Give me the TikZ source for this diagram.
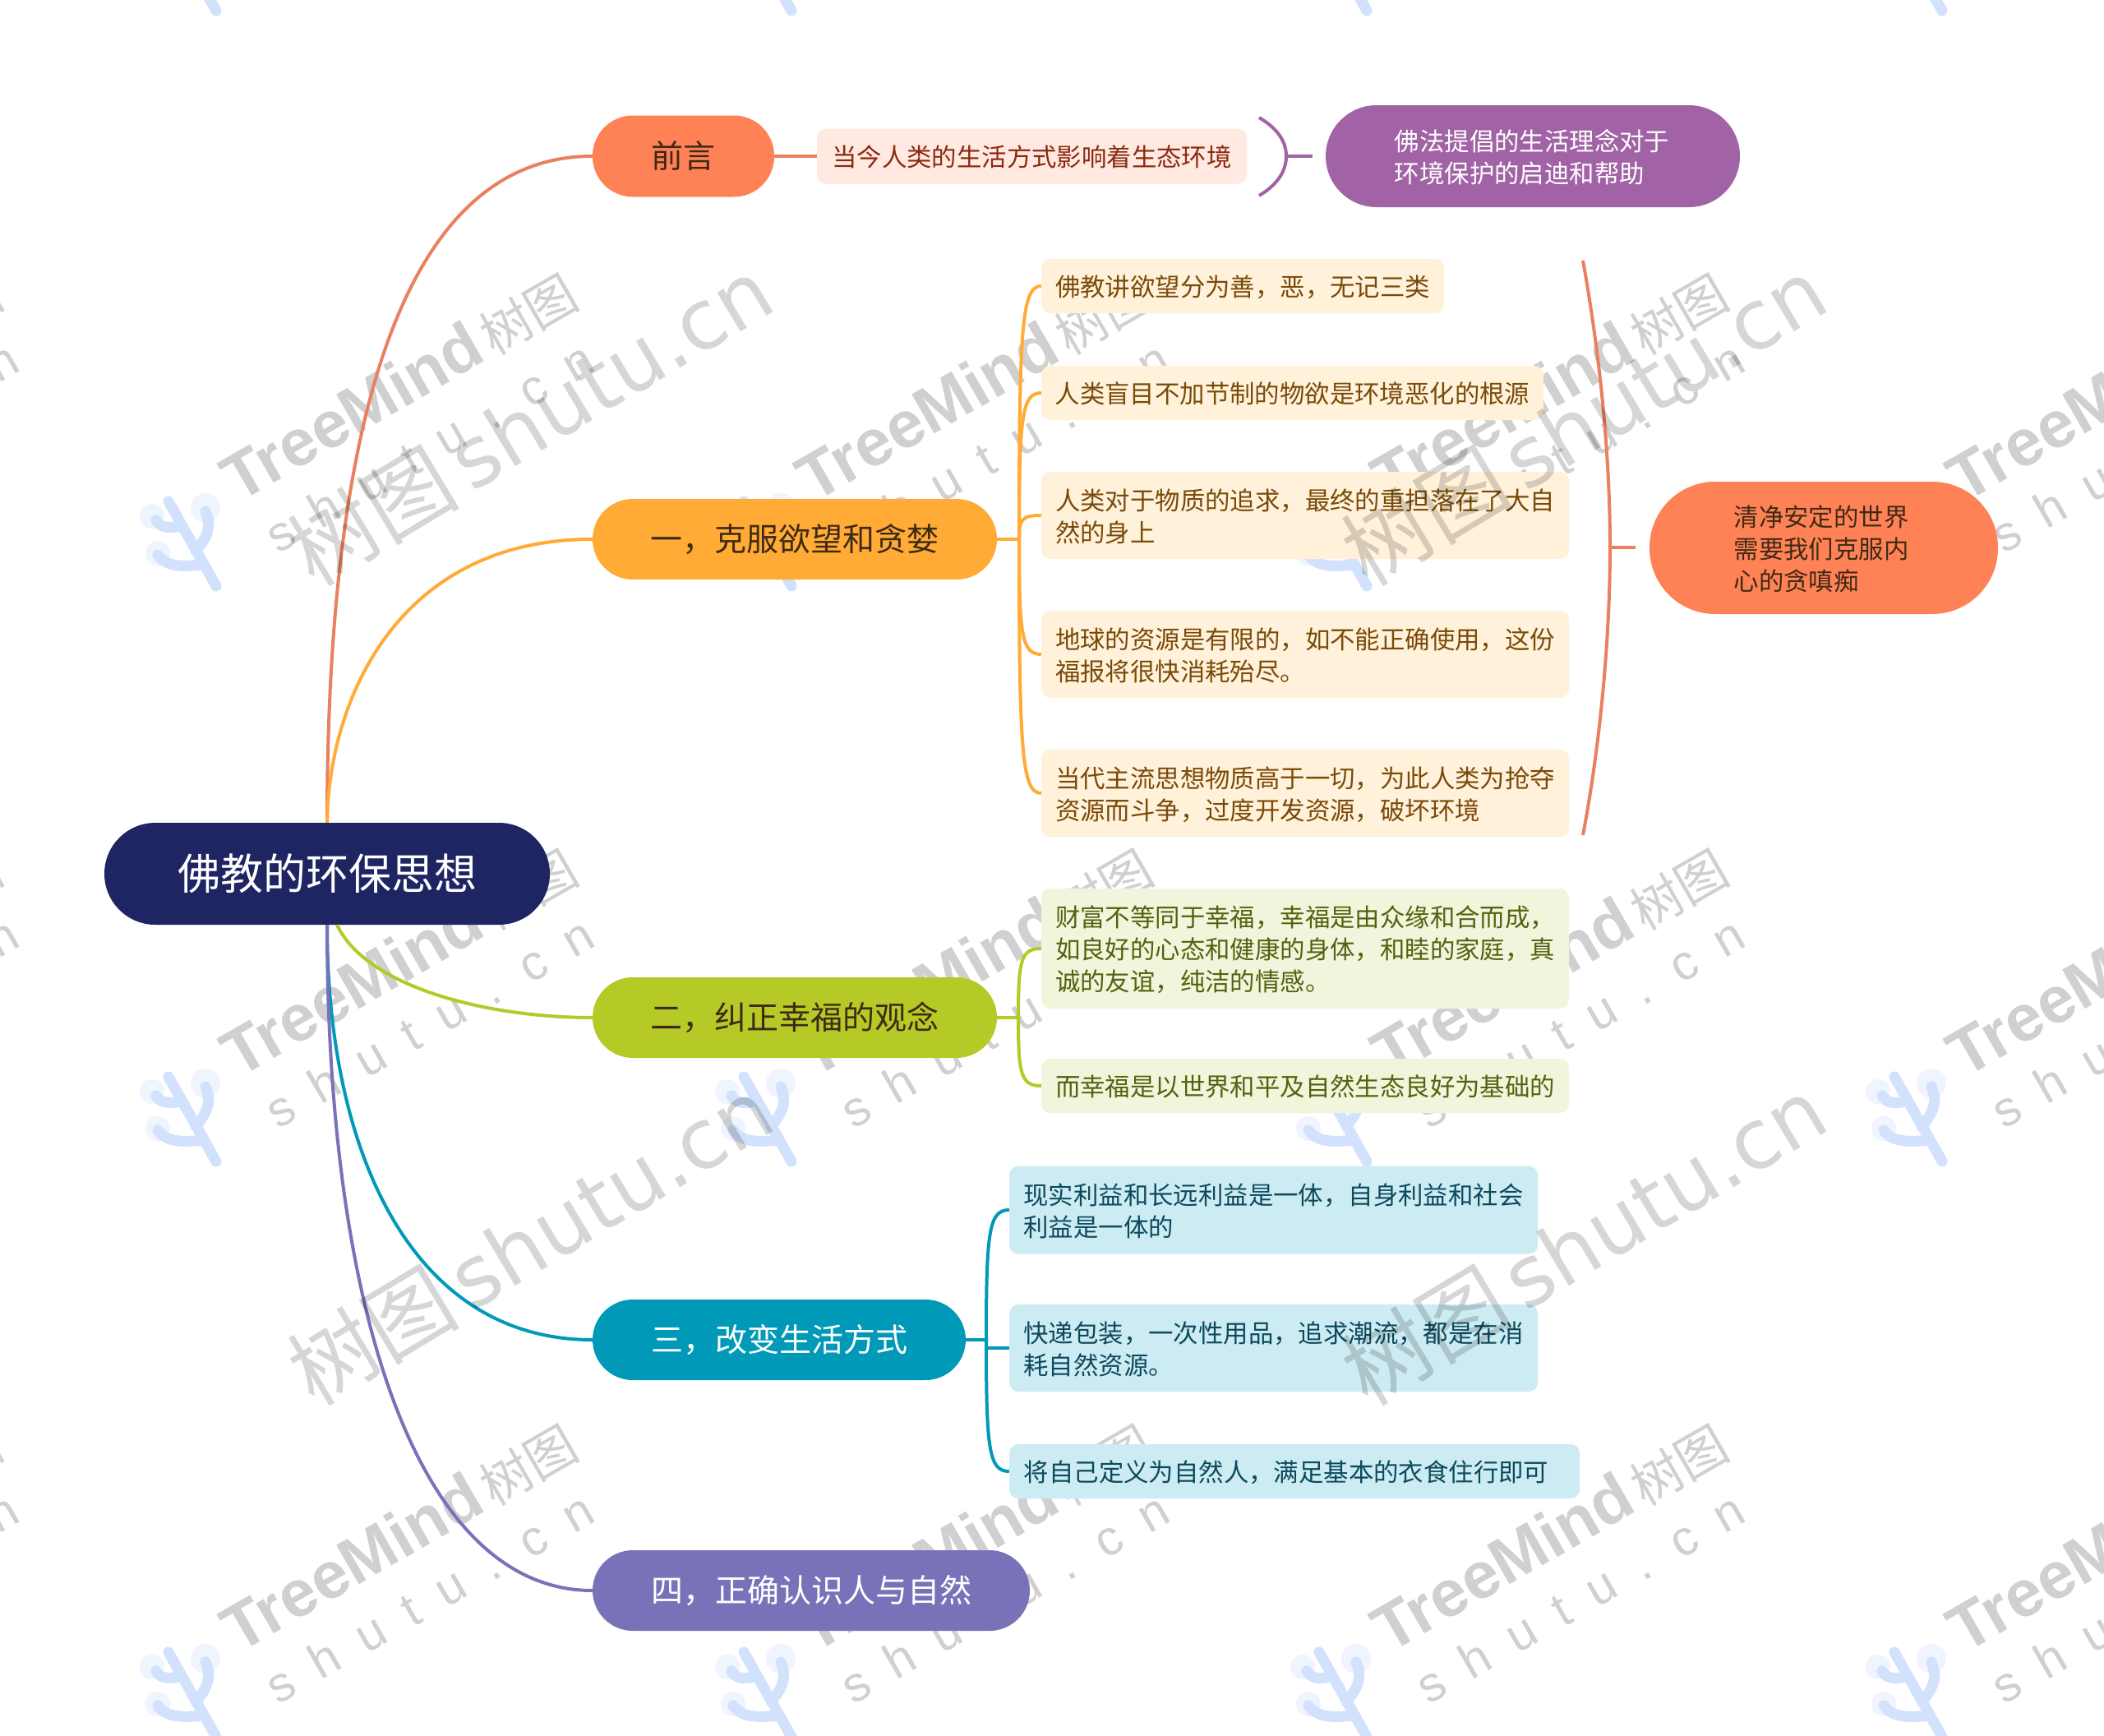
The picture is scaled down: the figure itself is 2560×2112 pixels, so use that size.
\documentclass[tikz,border=0pt]{standalone}
\usepackage{fontspec}
\setmainfont{Noto Sans CJK SC}
\newfontfamily\latinwm{Liberation Sans}
\newfontfamily\latinbig{DejaVu Sans}
\newcommand{\ntx}[1]{\raisebox{-0.17em}[\height][\depth]{\begin{tabular}{@{}l@{}}#1\end{tabular}}}
\newcommand{\ntxb}[1]{\raisebox{-0.13em}[\height][\depth]{\begin{tabular}{@{}l@{}}#1\end{tabular}}}
\definecolor{cnavy}{HTML}{1F2563}
\definecolor{ccoral}{HTML}{FF8257}
\definecolor{ccoralL}{HTML}{E98060}
\definecolor{cpurple}{HTML}{A263A6}
\definecolor{corange}{HTML}{FFAB36}
\definecolor{cgreen}{HTML}{B5C927}
\definecolor{cteal}{HTML}{0099B8}
\definecolor{cviolet}{HTML}{7872B9}
\definecolor{lpink}{HTML}{FFE9E1}
\definecolor{lorange}{HTML}{FFF1DA}
\definecolor{lgreen}{HTML}{F1F5DC}
\definecolor{lblue}{HTML}{CDEBF2}
\definecolor{tpink}{HTML}{8A2A10}
\definecolor{torange}{HTML}{7A4A08}
\definecolor{tgreen}{HTML}{55610F}
\definecolor{tblue}{HTML}{0B4A5C}
\definecolor{tdark}{HTML}{3F2A14}
\definecolor{wmgray}{HTML}{D0D0D0}
\definecolor{wmblue}{HTML}{D2E1FC}
\definecolor{wmhalo}{HTML}{EFF4FE}
\tikzset{
  x=1pt,y=-1pt,
  pillbox/.style={inner sep=0pt,rounded corners=49pt,font=\fontsize{39}{48}\selectfont},
  subbox/.style={inner sep=0pt,rounded corners=48pt,text=white,font=\fontsize{30.4}{39}\selectfont},
  leafbox/.style={inner sep=0pt,rounded corners=11pt,font=\fontsize{30.4}{39}\selectfont},
  conn/.style={line width=4pt},
  wmsmall/.style={text=wmgray,rotate=30,inner sep=0pt},
  wmbig/.style={text=black,text opacity=0.16,rotate=31,inner sep=0pt},
  wmlogo/.style={wmblue,line width=13pt,line cap=round},
}
\begin{document}
\begin{tikzpicture}
\useasboundingbox (0,0) rectangle (2560,2112);
\clip (0,0) rectangle (2560,2112);
\fill[white] (0,0) rectangle (2560,2112);
% small watermark tiles
\foreach \i in {-1,0,1,2,3}{
 \foreach \j in {-1,0,1,2}{
  \pgfmathsetmacro{\ox}{700*\i}
  \pgfmathsetmacro{\oy}{700*\j}
  \begin{scope}[shift={(\ox,\oy)}]
   \fill[wmhalo] (185,628) circle[radius=15];
   \fill[wmhalo] (250,618) circle[radius=18];
   \fill[wmhalo] (192,673) circle[radius=15];
   \draw[wmlogo] (205,610) -- (263,713);
   \draw[wmlogo] (250,622) .. controls (258,640) and (252,655) .. (238,670);
   \draw[wmlogo] (190,633) .. controls (195,642) and (205,643) .. (218,640);
   \draw[wmlogo] (192,675) .. controls (200,686) and (212,691) .. (248,687);
   \node[wmsmall] (tm\i\j) at (486,469) {{\latinwm\bfseries\fontsize{80}{80}\selectfont TreeMind}\hspace{8pt}{\fontsize{62}{62}\selectfont 树图}};
   \node[wmsmall] (su\i\j) at (522,544) {{\latinwm\fontsize{60}{60}\selectfont\spaceskip=31pt s h u t u . c n}};
  \end{scope}
 }
}
% root and branches
\node[pillbox,rounded corners=62pt,fill=cnavy,text=white,minimum width=542pt,minimum height=124pt,font=\fontsize{52}{60}\selectfont] (root) at (398,1063) {\ntxb{佛教的环保思想}};
\node[pillbox,fill=ccoral,text=tdark,minimum width=221pt,minimum height=99pt] (b0) at (831.5,190) {\ntxb{前言}};
\node[pillbox,fill=corange,text=tdark,minimum width=492pt,minimum height=98pt] (b1) at (967,656) {\ntxb{一，克服欲望和贪婪}};
\node[pillbox,fill=cgreen,text=tdark,minimum width=492pt,minimum height=98pt] (b2) at (967,1238) {\ntxb{二，纠正幸福的观念}};
\node[pillbox,fill=cteal,text=white,minimum width=454pt,minimum height=98pt] (b3) at (948,1630) {\ntxb{三，改变生活方式}};
\node[pillbox,fill=cviolet,text=white,minimum width=532pt,minimum height=98pt] (b4) at (987,1935) {\ntxb{四，正确认识人与自然}};
% leaves
\node[leafbox,fill=lpink,text=tpink,minimum width=523pt,minimum height=67pt] (l01) at (1255.5,190) {\ntx{当今人类的生活方式影响着生态环境}};
\node[subbox,rounded corners=62pt,fill=cpurple,minimum width=504pt,minimum height=124pt] (s0) at (1865,190) {\ntx{佛法提倡的生活理念对于\\环境保护的启迪和帮助}\hspace*{2pt}};
\node[subbox,rounded corners=80pt,fill=ccoral,text=tdark,minimum width=424pt,minimum height=161pt] (s1) at (2219,666.5) {\ntx{清净安定的世界\\需要我们克服内\\心的贪嗔痴}\hspace*{6pt}};
\node[leafbox,fill=lorange,text=torange,minimum width=490pt,minimum height=66pt] (l11) at (1512,348) {\ntx{佛教讲欲望分为善，恶，无记三类}};
\node[leafbox,fill=lorange,text=torange,minimum width=611pt,minimum height=66pt] (l12) at (1572.5,478) {\ntx{人类盲目不加节制的物欲是环境恶化的根源}};
\node[leafbox,fill=lorange,text=torange,minimum width=642pt,minimum height=106pt] (l13) at (1588,627) {\ntx{人类对于物质的追求，最终的重担落在了大自\\然的身上}};
\node[leafbox,fill=lorange,text=torange,minimum width=642pt,minimum height=106pt] (l14) at (1588,796) {\ntx{地球的资源是有限的，如不能正确使用，这份\\福报将很快消耗殆尽。}};
\node[leafbox,fill=lorange,text=torange,minimum width=642pt,minimum height=106pt] (l15) at (1588,965) {\ntx{当代主流思想物质高于一切，为此人类为抢夺\\资源而斗争，过度开发资源，破坏环境}};
\node[leafbox,fill=lgreen,text=tgreen,minimum width=642pt,minimum height=146pt] (l21) at (1588,1154) {\ntx{财富不等同于幸福，幸福是由众缘和合而成，\\如良好的心态和健康的身体，和睦的家庭，真\\诚的友谊，纯洁的情感。}};
\node[leafbox,fill=lgreen,text=tgreen,minimum width=642pt,minimum height=66pt] (l22) at (1588,1321) {\ntx{而幸福是以世界和平及自然生态良好为基础的}};
\node[leafbox,fill=lblue,text=tblue,minimum width=643pt,minimum height=107pt] (l31) at (1549.5,1472) {\ntx{现实利益和长远利益是一体，自身利益和社会\\利益是一体的}};
\node[leafbox,fill=lblue,text=tblue,minimum width=643pt,minimum height=106pt] (l32) at (1549.5,1640) {\ntx{快递包装，一次性用品，追求潮流，都是在消\\耗自然资源。}};
\node[leafbox,fill=lblue,text=tblue,minimum width=694pt,minimum height=66pt] (l33) at (1575,1790) {\ntx{将自己定义为自然人，满足基本的衣食住行即可}\hspace*{20pt}};
% root connectors
\draw[conn,ccoralL] (root.north) .. controls (398,500) and (495,190) .. (b0.west);
\draw[conn,corange] (root.north) .. controls (400,850) and (485,656) .. (b1.west);
\coordinate (rootg) at (410,1125);
\draw[conn,cgreen] (rootg) .. controls (445,1200) and (590,1238) .. (b2.west);
\draw[conn,cteal] (root.south) .. controls (398,1400) and (500,1630) .. (b3.west);
\draw[conn,cviolet] (root.south) .. controls (398,1600) and (510,1935) .. (b4.west);
% branch to leaves
\draw[conn,ccoralL] (b0.east) -- (l01.west);
\coordinate (t1) at (1240,656);
\draw[conn,corange] (b1.east) -- (t1);
\foreach \n/\yy in {l11/348,l12/478,l13/627,l14/796,l15/965}{
  \pgfmathsetmacro{\cc}{\yy+0.17*(656-\yy)}
  \draw[conn,corange] (t1) .. controls (1240,\cc) and (1243,\yy) .. (\n.west);
}
\coordinate (t2) at (1239,1238);
\draw[conn,cgreen] (b2.east) -- (t2);
\foreach \n/\yy in {l21/1154,l22/1321}{
  \pgfmathsetmacro{\cc}{\yy+0.17*(1238-\yy)}
  \draw[conn,cgreen] (t2) .. controls (1239,\cc) and (1242,\yy) .. (\n.west);
}
\coordinate (t3) at (1200,1630);
\draw[conn,cteal] (b3.east) -- (t3);
\foreach \n/\yy in {l31/1472,l33/1790}{
  \pgfmathsetmacro{\cc}{\yy+0.17*(1630-\yy)}
  \draw[conn,cteal] (t3) .. controls (1200,\cc) and (1203,\yy) .. (\n.west);
}
\draw[conn,cteal] (t3) -- (1200,1640) -- (l32.west);
% summary brackets
\coordinate (br0a) at (1532,143);
\coordinate (br0m) at (1565,190);
\coordinate (br0b) at (1532,238);
\draw[conn,cpurple] (br0a) .. controls (1552,155) and (1565,170) .. (br0m) .. controls (1565,210) and (1552,226) .. (br0b);
\draw[conn,cpurple] (br0m) -- (1597,190);
\coordinate (br1a) at (1926,317);
\coordinate (br1m) at (1959,666);
\coordinate (br1b) at (1926,1016);
\draw[conn,ccoralL] (br1a) .. controls (1948,440) and (1959,560) .. (br1m) .. controls (1959,770) and (1948,900) .. (br1b);
\draw[conn,ccoralL] (br1m) -- (1990,666);
% large watermark over everything
\foreach \i in {0,1}{
 \foreach \j in {0,1}{
  \pgfmathsetmacro{\ox}{645+1282*\i}
  \pgfmathsetmacro{\oy}{511+997*\j}
  \node[wmbig] (big\i\j) at (\ox,\oy) {{\fontsize{105}{105}\selectfont 树图}\hspace{14pt}{\latinbig\fontsize{101}{101}\selectfont shutu.cn}};
 }
}
\end{tikzpicture}
\end{document}
